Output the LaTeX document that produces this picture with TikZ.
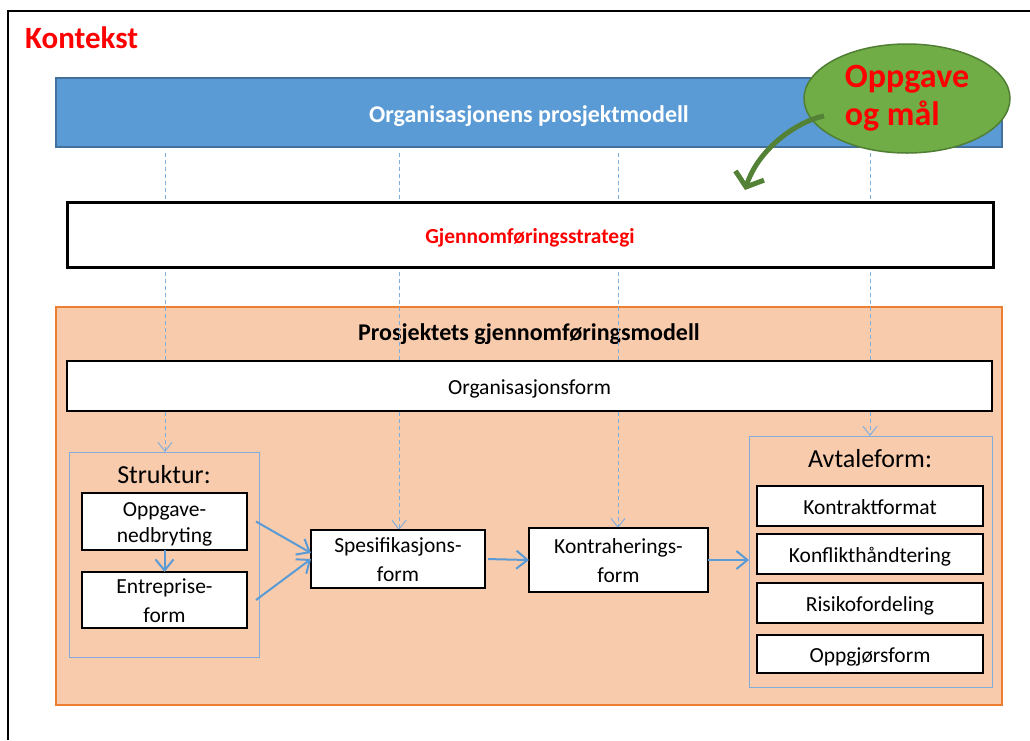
\documentclass[tikz,border=0pt]{standalone}
\usepackage{fontspec}
\setmainfont{Carlito}
\usetikzlibrary{arrows.meta,shapes.geometric}

\definecolor{modelblue}{HTML}{5B9BD5}
\definecolor{modelblueline}{HTML}{41719C}
\definecolor{panelfill}{HTML}{F8CBAD}
\definecolor{panelline}{HTML}{ED7D31}
\definecolor{goalfill}{HTML}{70AD47}
\definecolor{goalline}{HTML}{507E32}
\definecolor{goalarrow}{HTML}{538135}
\definecolor{guideblue}{HTML}{7DAEE0}
\definecolor{groupblue}{HTML}{84ACDA}
\definecolor{flowblue}{HTML}{5B9BD5}

\pgfdeclarelayer{back}
\pgfdeclarelayer{mid}
\pgfsetlayers{back,mid,main}

\tikzset{
  sized/.style 2 args={minimum width=#1, minimum height=#2, inner sep=0pt, outer sep=0pt},
  whitebox/.style={draw=black, fill=white, line width=2.5pt, align=center,
    font=\fontsize{21.5}{29}\selectfont},
  oneline/.style={text height=16pt, text depth=0pt},
  twoline/.style={text height=44pt, text depth=0pt},
  groupframe/.style={draw=groupblue, line width=1pt},
  grouplabel/.style={inner sep=0pt, anchor=base, font=\fontsize{26}{30}\selectfont},
  flow/.style={draw=flowblue, line width=2pt, -{Straight Barb[length=11pt,width=18pt]}},
  guide/.style={draw=guideblue, line width=0.9pt, dash pattern=on 4pt off 3pt,
    -{Straight Barb[length=9pt,width=14pt]}},
  goal/.style={draw=goalarrow, line width=5pt, -{Straight Barb[length=12pt,width=30pt]}},
}

\begin{document}
\begin{tikzpicture}[x=1pt,y=-1pt]
\useasboundingbox (0,0) rectangle (1030,740);

% outer context frame
\draw[line width=2pt] (8,740) -- (8,11) -- (1030,11);
\node[anchor=base west, inner sep=0pt, text=red, font=\bfseries\fontsize{31}{34}\selectfont]
  (ctx) at (25,48) {Kontekst};

\begin{pgfonlayer}{back}
  % organisation's project model
  \node[sized={946}{69}, fill=modelblue, draw=modelblueline, line width=1.5pt,
        text=white, text height=19pt, text depth=0pt,
        font=\bfseries\fontsize{24}{28}\selectfont]
    (orgmodel) at (529,112.5) {Organisasjonens prosjektmodell};
  % project execution model panel
  \node[sized={946}{398}, fill=panelfill, draw=panelline, line width=2pt]
    (panel) at (529,506) {};
  \node[inner sep=0pt, anchor=base, font=\bfseries\fontsize{24}{28}\selectfont]
    (paneltitle) at (529,340) {Prosjektets gjennomføringsmodell};
\end{pgfonlayer}

% execution strategy
\node[sized={926}{65}, draw=black, fill=white, line width=3pt, text=red,
      text height=17pt, text depth=0pt,
      font=\bfseries\fontsize{21.4}{26}\selectfont]
  (strategy) at (530,234.5) {Gjennomføringsstrategi};

% organisation form
\node[whitebox, oneline, sized={925}{50}] (orgform) at (529.5,386) {Organisasjonsform};

% structure group
\node[groupframe, sized={190}{205}] (struktur) at (164,554.5) {};
\node[grouplabel] (strukturlbl) at (164,483) {Struktur:};
\node[whitebox, sized={165}{57}, text height=41pt, text depth=0pt,
      font=\fontsize{21.5}{26}\selectfont]
  (opp) at (164.5,521.5) {Oppgave-\\nedbryting};
\node[whitebox, twoline, sized={165}{56}] (ent) at (164.5,600) {Entreprise-\\form};

% specification and contracting
\node[whitebox, twoline, sized={174}{58}] (spes) at (398,559) {Spesifikasjons-\\form};
\node[whitebox, twoline, sized={179}{64}] (kontr) at (618.5,560) {Kontraherings-\\form};

% agreement group
\node[groupframe, sized={243}{251}] (avt) at (870.5,561.5) {};
\node[grouplabel] (avtlbl) at (870,467) {Avtaleform:};
\node[whitebox, oneline, sized={226}{40}] (kf) at (870,506) {Kontraktformat};
\node[whitebox, oneline, sized={226}{40}] (kh) at (870,554) {Konflikthåndtering};
\node[whitebox, oneline, sized={226}{40}] (rf) at (870,603) {Risikofordeling};
\node[whitebox, oneline, sized={226}{38}] (og) at (870,654) {Oppgjørsform};

% dashed guide lines from the project model
\coordinate (g1) at (165,153);
\coordinate (g2) at (399,153);
\coordinate (g3) at (618,153);
\coordinate (g4) at (870,153);
\begin{pgfonlayer}{mid}
  \draw[guide] (g1) -- (g1 |- struktur.north);
  \draw[guide] (g2) -- (g2 |- spes.north);
  \draw[guide] (g3) -- (g3 |- kontr.north);
  \draw[guide] (g4) -- (g4 |- avt.north);
\end{pgfonlayer}

% flow arrows
\draw[flow] (opp.south) -- (ent.north);
\draw[flow] ([xshift=-3pt]struktur.east |- opp.east) -- ([yshift=6pt]spes.west);
\draw[flow] ([xshift=-3pt]struktur.east |- ent.east) -- (spes.west);
\draw[flow, shorten <=3pt] (spes.east) -- (kontr.west);
\draw[flow] (kontr.east) -- (kontr.east -| avt.west);

% task and goal
\node[ellipse, sized={206}{109}, fill=goalfill, draw=goalline, line width=1.5pt,
      text=red, align=left, font=\bfseries\fontsize{34}{38}\selectfont]
  (goal) at (907,98.5) {Oppgave\\og mål};
\coordinate (gstart) at (824,116);
\coordinate (gend) at (745,190);
\draw[goal] (gstart) .. controls (795,122) and (758,150) .. (gend);

\end{tikzpicture}
\end{document}
